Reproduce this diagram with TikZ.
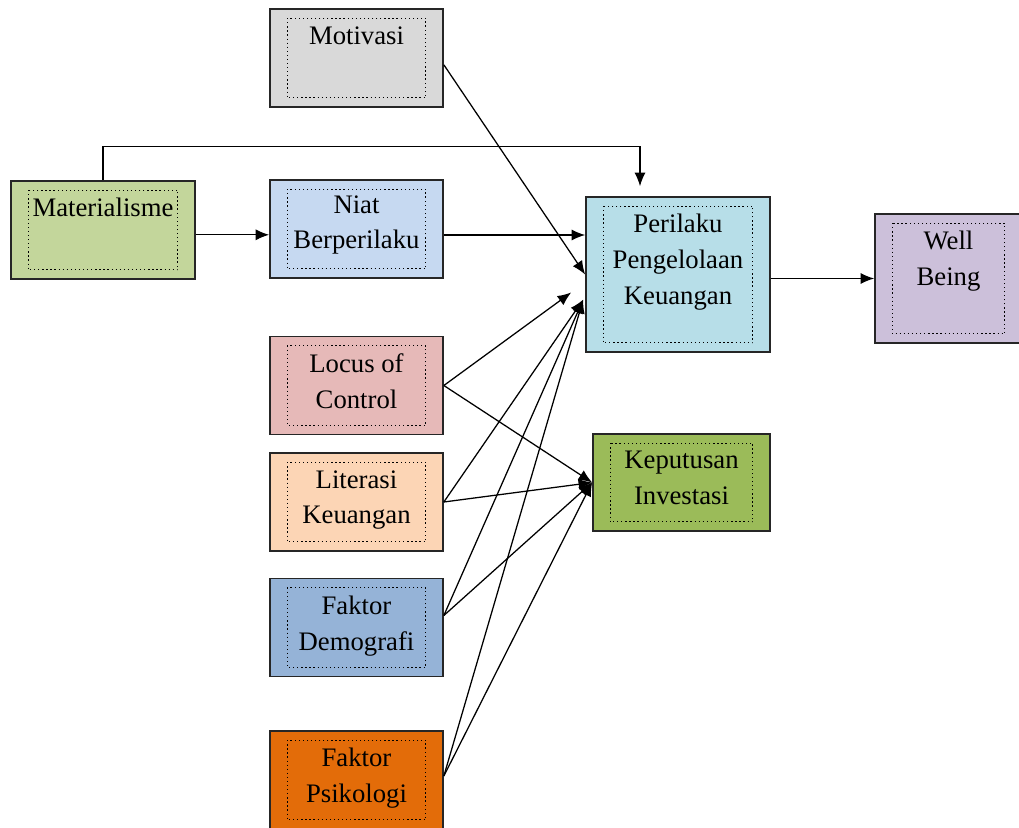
\documentclass[tikz,border=0pt]{standalone}
\usepackage{fontspec}
\setmainfont{Liberation Serif}
\usepackage{xcolor}
\usepackage{tikz}
\usetikzlibrary{positioning,arrows.meta,calc}

\definecolor{motivfill}{HTML}{D9D9D9}
\definecolor{materfill}{HTML}{C3D69B}
\definecolor{niatfill}{HTML}{C6D9F1}
\definecolor{perilfill}{HTML}{B7DEE8}
\definecolor{wellfill}{HTML}{CCC0DA}
\definecolor{locusfill}{HTML}{E6B9B8}
\definecolor{literfill}{HTML}{FCD5B5}
\definecolor{keputfill}{HTML}{9BBB59}
\definecolor{demogfill}{HTML}{95B3D7}
\definecolor{psikofill}{HTML}{E36C09}

\begin{document}
\begin{tikzpicture}[
    box/.style={
        draw=black!85,
        line width=1.2pt,
        minimum width=4.325cm,
        minimum height=2.45cm,
        inner sep=0pt
    },
    inner/.style={
        draw=black,
        dotted,
        line width=0.9pt
    },
    txt/.style={
        font=\fontsize{19}{25.5}\selectfont,
        align=center,
        anchor=north,
        inner sep=0pt
    },
    arr/.style={-{Latex[length=3.4mm,width=2.8mm]}, line width=0.9pt, black}
]
\useasboundingbox (0,0) rectangle (25.475,-20.7);

% left column
\node[box, fill=motivfill] (motiv) at (8.9125,-1.45) {};
\draw[inner] ($(motiv.north west)+(0.45,-0.25)$) rectangle ($(motiv.south east)+(-0.45,0.25)$);
\node[txt] (motivT) at ($(motiv.north)+(0,-0.45)$) {Motivasi};

\node[box, fill=materfill, minimum width=4.6cm] (mater) at (2.575,-5.75) {};
\draw[inner] ($(mater.north west)+(0.45,-0.25)$) rectangle ($(mater.south east)+(-0.45,0.25)$);
\node[txt] (materT) at ($(mater.north)+(0,-0.45)$) {Materialisme};

\node[box, fill=niatfill] (niat) at (8.9125,-5.725) {};
\draw[inner] ($(niat.north west)+(0.45,-0.25)$) rectangle ($(niat.south east)+(-0.45,0.25)$);
\node[txt] (niatT) at ($(niat.north)+(0,-0.4)$) {Niat\\Berperilaku};

\node[box, fill=locusfill] (locus) at (8.9125,-9.6375) {};
\draw[inner] ($(locus.north west)+(0.45,-0.25)$) rectangle ($(locus.south east)+(-0.45,0.25)$);
\node[txt] (locusT) at ($(locus.north)+(0,-0.45)$) {Locus of\\Control};

\node[box, fill=literfill] (liter) at (8.9125,-12.55) {};
\draw[inner] ($(liter.north west)+(0.45,-0.25)$) rectangle ($(liter.south east)+(-0.45,0.25)$);
\node[txt] (literT) at ($(liter.north)+(0,-0.45)$) {Literasi\\Keuangan};

\node[box, fill=demogfill] (demog) at (8.9125,-15.6875) {};
\draw[inner] ($(demog.north west)+(0.45,-0.25)$) rectangle ($(demog.south east)+(-0.45,0.25)$);
\node[txt] (demogT) at ($(demog.north)+(0,-0.45)$) {Faktor\\Demografi};

\node[box, fill=psikofill] (psiko) at (8.9125,-19.5) {};
\draw[inner] ($(psiko.north west)+(0.45,-0.25)$) rectangle ($(psiko.south east)+(-0.45,0.25)$);
\node[txt] (psikoT) at ($(psiko.north)+(0,-0.45)$) {Faktor\\Psikologi};

% right side
\node[box, fill=perilfill, minimum width=4.6cm, minimum height=3.875cm] (peril) at (16.95,-6.8625) {};
\draw[inner] ($(peril.north west)+(0.45,-0.25)$) rectangle ($(peril.south east)+(-0.45,0.25)$);
\node[txt] (perilT) at ($(peril.north)+(0,-0.45)$) {Perilaku\\Pengelolaan\\Keuangan};

\node[box, fill=keputfill, minimum width=4.425cm, minimum height=2.425cm] (keput) at (17.0375,-12.0625) {};
\draw[inner] ($(keput.north west)+(0.45,-0.25)$) rectangle ($(keput.south east)+(-0.45,0.25)$);
\node[txt] (keputT) at ($(keput.north)+(0,-0.45)$) {Keputusan\\Investasi};

\node[box, fill=wellfill, minimum width=3.675cm, minimum height=3.225cm] (well) at (23.7125,-6.9625) {};
\draw[inner] ($(well.north west)+(0.45,-0.25)$) rectangle ($(well.south east)+(-0.45,0.25)$);
\node[txt] (wellT) at ($(well.north)+(0,-0.45)$) {Well\\Being};

% connectors
\draw[arr] ([yshift=-0.12cm]mater.east) -- ([yshift=-0.12cm]mater.east -| niat.west);
\draw[arr, shorten >=0.25cm] (mater.north) -- ++(0,0.85) -| ([xshift=-0.95cm]peril.north);
\draw[arr] ([yshift=-0.15cm]niat.east) -- ([yshift=-0.15cm]niat.east -| peril.west);
\draw[arr] ([yshift=-0.17cm]motiv.east) -- (peril.west);

\coordinate (perIn) at ([xshift=-0.05cm,yshift=-0.63cm]peril.west);
\draw[arr] (locus.east) -- ([xshift=-0.35cm,yshift=-0.45cm]peril.west);
\draw[arr] (liter.east) -- (perIn);
\draw[arr] ([yshift=0.3cm]demog.east) -- (perIn);
\draw[arr] ([yshift=0.1cm]psiko.east) -- (perIn);

\draw[arr] (locus.east) -- (keput.west);
\draw[arr] (liter.east) -- (keput.west);
\draw[arr] ([yshift=0.3cm]demog.east) -- (keput.west);
\draw[arr] ([yshift=0.1cm]psiko.east) -- (keput.west);

\draw[arr] (peril.east |- well.west) -- (well.west);

\end{tikzpicture}
\end{document}
